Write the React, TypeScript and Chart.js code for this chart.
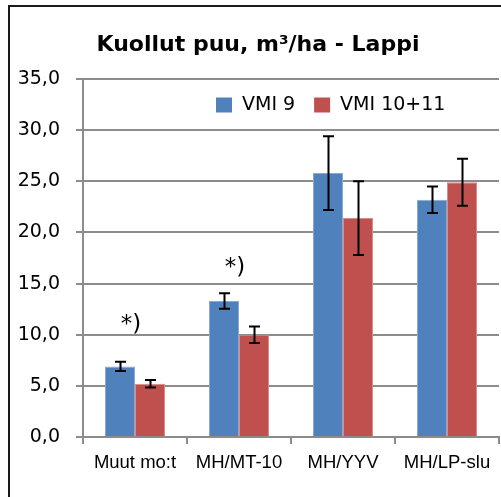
import React, { useEffect, useRef } from "react";
import { Chart, registerables } from "chart.js";

Chart.register(...registerables);

const categories = ["Muut mo:t", "MH/MT-10", "MH/YYV", "MH/LP-slu"];
const seriesNames = ["VMI 9", "VMI 10+11"];
const vmi9 = [6.9, 13.3, 25.8, 23.2];
const vmi9Err = [0.45, 0.75, 3.6, 1.3];
const vmi1011 = [5.2, 10.0, 21.4, 24.9];
const vmi1011Err = [0.37, 0.8, 3.6, 2.3];
const yTicks = [0, 5, 10, 15, 20, 25, 30, 35];
const noteCategories = ["Muut mo:t", "MH/MT-10"];
const noteValues = [10.9, 16.5];
const noteText = "*)";
const titleText = "Kuollut puu, m³/ha - Lappi";

const BLUE = "#4F81BD";
const RED = "#C0504D";
const GRID = "#8C8C8C";

const errors = [vmi9Err, vmi1011Err];

const framePlugin = {
  id: "frame",
  beforeDraw(chart: any) {
    const ctx = chart.ctx;
    ctx.save();
    ctx.fillStyle = "#ffffff";
    ctx.fillRect(0, 0, chart.width, chart.height);
    ctx.strokeStyle = "#1a1a1a";
    ctx.lineWidth = 2;
    ctx.strokeRect(9, 6, chart.width + 40, chart.height + 40);
    ctx.restore();
  },
};

const errorBarPlugin = {
  id: "errorBars",
  afterDatasetsDraw(chart: any) {
    const ctx = chart.ctx;
    const y = chart.scales.y;
    ctx.save();
    ctx.strokeStyle = "#000000";
    ctx.lineWidth = 2;
    chart.data.datasets.forEach((ds: any, di: number) => {
      const meta = chart.getDatasetMeta(di);
      meta.data.forEach((bar: any, i: number) => {
        const v = ds.data[i];
        const e = errors[di][i];
        const yTop = y.getPixelForValue(v + e);
        const yBot = y.getPixelForValue(v - e);
        const x = Math.round(bar.x) + 0.5;
        ctx.beginPath();
        ctx.moveTo(x, yTop);
        ctx.lineTo(x, yBot);
        ctx.moveTo(x - 5.5, yTop);
        ctx.lineTo(x + 5.5, yTop);
        ctx.moveTo(x - 5.5, yBot);
        ctx.lineTo(x + 5.5, yBot);
        ctx.stroke();
      });
    });
    ctx.restore();
  },
};

const legendPlugin = {
  id: "innerLegend",
  afterDraw(chart: any) {
    const ctx = chart.ctx;
    const area = chart.chartArea;
    ctx.save();
    ctx.font = "19px 'DejaVu Sans'";
    ctx.textBaseline = "middle";
    ctx.textAlign = "left";
    let x = area.left + 133;
    const yc = area.top + 26;
    chart.data.datasets.forEach((ds: any) => {
      ctx.fillStyle = ds.backgroundColor;
      ctx.fillRect(x, yc - 7.5, 16, 15);
      ctx.fillStyle = "#000000";
      ctx.fillText(ds.label, x + 26, yc);
      x += 26 + ctx.measureText(ds.label).width + 19;
    });
    ctx.restore();
  },
};

const notesPlugin = {
  id: "notes",
  afterDatasetsDraw(chart: any) {
    const ctx = chart.ctx;
    const xs = chart.scales.x;
    const ys = chart.scales.y;
    ctx.save();
    ctx.font = "23px 'DejaVu Sans'";
    ctx.fillStyle = "#000000";
    ctx.textAlign = "center";
    ctx.textBaseline = "middle";
    noteCategories.forEach((c, i) => {
      const idx = categories.indexOf(c);
      const x = xs.getPixelForValue(idx) - 4;
      const yy = ys.getPixelForValue(noteValues[i]);
      ctx.fillText(noteText, x, yy);
    });
    ctx.restore();
  },
};

export default function App() {
  const ref = useRef<HTMLCanvasElement>(null);
  useEffect(() => {
    if (!ref.current) return;
    const chart = new Chart(ref.current, {
      type: "bar",
      data: {
        labels: categories,
        datasets: [
          {
            label: seriesNames[0],
            data: vmi9,
            backgroundColor: BLUE,
            borderColor: "#86A8D4",
            borderWidth: 1,
            categoryPercentage: 0.577,
            barPercentage: 1,
          },
          {
            label: seriesNames[1],
            data: vmi1011,
            backgroundColor: RED,
            borderColor: "#D88C8A",
            borderWidth: 1,
            categoryPercentage: 0.577,
            barPercentage: 1,
          },
        ],
      },
      options: {
        responsive: false,
        animation: false,
        devicePixelRatio: 1,
        layout: { padding: { left: 17, right: 2, top: 0, bottom: 0 } },
        plugins: {
          legend: { display: false },
          tooltip: { enabled: false },
          title: {
            display: true,
            text: titleText,
            color: "#000000",
            font: { family: "'DejaVu Sans'", size: 22, weight: "bold", lineHeight: 1.2 },
            padding: { top: 32, bottom: 20.6 },
          },
        },
        scales: {
          x: {
            grid: {
              drawOnChartArea: false,
              drawTicks: true,
              tickLength: 7,
              color: GRID,
              lineWidth: 2,
            },
            border: { color: GRID, width: 2 },
            ticks: {
              color: "#000000",
              font: { family: "'Liberation Sans'", size: 18.5 },
              padding: 8,
              maxRotation: 0,
            },
            afterFit(scale: any) {
              scale.height = 60;
            },
          },
          y: {
            min: 0,
            max: 35,
            afterBuildTicks(scale: any) {
              scale.ticks = yTicks.map((v) => ({ value: v }));
            },
            grid: { color: GRID, lineWidth: 2, tickLength: 7 },
            border: { color: GRID, width: 2 },
            ticks: {
              color: "#000000",
              font: { family: "'DejaVu Sans'", size: 19 },
              padding: 16,
              callback: (v: any) => Number(v).toFixed(1).replace(".", ","),
            },
            afterFit(scale: any) {
              scale.width = 66;
            },
          },
        },
      },
      plugins: [framePlugin, errorBarPlugin, notesPlugin, legendPlugin],
    } as any);
    return () => chart.destroy();
  }, []);
  return (
    <canvas
      ref={ref}
      width={501}
      height={497}
      style={{ position: "fixed", left: 0, top: 0, width: 501, height: 497 }}
    />
  );
}
